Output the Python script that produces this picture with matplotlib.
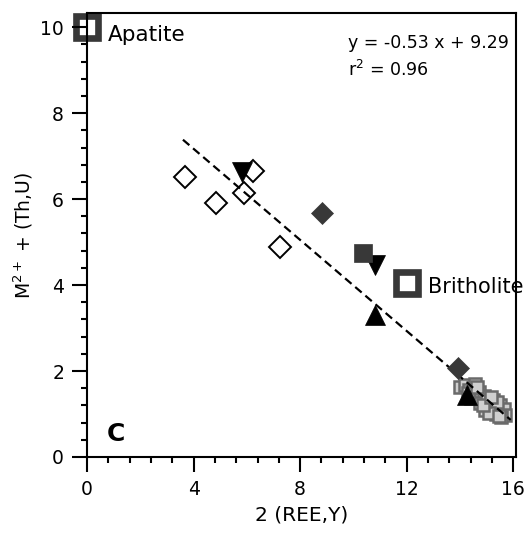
"""Diagram M2+ + (Th,U) vs 2 (REE,Y): apatite - britholite substitution trend"""

import matplotlib
matplotlib.use('Agg')
import matplotlib.pyplot as plt
from matplotlib.ticker import MultipleLocator
import numpy as np

# end members
apatite_x, apatite_y = [0.0], [10.0]
britholite_x, britholite_y = [12.02], [4.05]

# analyses by group
open_dia_x = [3.68, 4.84, 5.90, 6.23, 7.25]
open_dia_y = [6.51, 5.90, 6.14, 6.65, 4.88]

dark_dia_x = [8.82, 13.93]
dark_dia_y = [5.67, 2.07]

dark_sq_x = [10.36]
dark_sq_y = [4.74]

tri_down_x = [5.82, 10.80]
tri_down_y = [6.63, 4.47]

tri_up_x = [10.81, 14.27]
tri_up_y = [3.30, 1.44]

gray_sq_x = [14.00, 14.20, 14.35, 14.50, 14.60, 14.40, 14.70, 14.80, 14.90, 14.75,
             15.00, 15.05, 15.15, 15.20, 15.30, 15.35, 15.45, 15.50, 15.60, 15.65,
             15.25, 14.55, 14.95, 15.40, 14.30, 15.10, 15.70, 15.55, 14.85, 14.65,
             15.15, 15.45]
gray_sq_y = [1.62, 1.68, 1.55, 1.60, 1.45, 1.38, 1.52, 1.35, 1.42, 1.25,
             1.30, 1.18, 1.25, 1.08, 1.15, 1.00, 1.10, 1.20, 1.05, 1.12,
             1.32, 1.70, 1.10, 1.28, 1.48, 1.02, 0.98, 0.92, 1.20, 1.62,
             1.40, 0.95]

# linear fit
slope, intercept, r2 = -0.53, 9.29, 0.96
fit_x0, fit_x1 = 3.6, 15.9

DARK = '#383838'

plt.rcParams['font.family'] = 'DejaVu Sans'

fig = plt.figure(figsize=(5.28, 5.33), dpi=100)
ax = fig.add_axes([0.1648, 0.1426, 0.8125, 0.833])

ax.plot(gray_sq_x, gray_sq_y, ls='none', marker='s', ms=8.5, mew=1.8,
        mec='#6a6a6a', mfc='#cfcfcf', zorder=2)

fx = np.array([fit_x0, fit_x1])
ax.plot(fx, slope * fx + intercept, color='black', lw=1.6,
        linestyle=(0, (3.8, 2.2)), zorder=3)

ax.plot(tri_down_x, tri_down_y, ls='none', marker='v', ms=14, mew=0.5,
        mec='black', mfc='black', zorder=4)
ax.plot(tri_up_x, tri_up_y, ls='none', marker='^', ms=14, mew=0.5,
        mec='black', mfc='black', zorder=4)
ax.plot(dark_dia_x, dark_dia_y, ls='none', marker='D', ms=11, mew=0.5,
        mec=DARK, mfc=DARK, zorder=4)
ax.plot(dark_sq_x, dark_sq_y, ls='none', marker='s', ms=12.5, mew=0.5,
        mec=DARK, mfc=DARK, zorder=4)
ax.plot(open_dia_x, open_dia_y, ls='none', marker='D', ms=11, mew=1.4,
        mec='black', mfc='none', zorder=5)

# end members, big hollow squares
ax.plot(britholite_x, britholite_y, ls='none', marker='s', ms=15.5, mew=4.8,
        mec=DARK, mfc='white', zorder=5)
ax.plot(apatite_x, apatite_y, ls='none', marker='s', ms=15.5, mew=4.8,
        mec=DARK, mfc='white', zorder=1.2, clip_on=False)

ax.text(0.79, 9.67, 'Apatite', fontsize=15.5, va='baseline', ha='left')
ax.text(12.8, 3.81, 'Britholite', fontsize=15, va='baseline', ha='left')

ax.text(0.608, 0.953, f'y = {slope:.2f} x + {intercept:.2f}', transform=ax.transAxes,
        fontsize=12.5, va='top', ha='left')
ax.text(0.608, 0.895, rf'r$^2$ = {r2:.2f}', transform=ax.transAxes,
        fontsize=12.5, va='top', ha='left')

ax.text(1.09, 0.53, 'C', fontsize=18, fontweight='bold', va='center', ha='center')

ax.set_xlim(0, 16.1)
ax.set_ylim(0, 10.33)
ax.xaxis.set_major_locator(MultipleLocator(4))
ax.xaxis.set_minor_locator(MultipleLocator(0.8))
ax.yaxis.set_major_locator(MultipleLocator(2))
ax.yaxis.set_minor_locator(MultipleLocator(0.4))

ax.tick_params(which='both', direction='out', width=1.5, top=False, right=False)
ax.tick_params(which='major', length=10.5, pad=6, labelsize=13.5)
ax.tick_params(which='minor', length=4.5)

for sp in ax.spines.values():
    sp.set_linewidth(1.5)

ax.set_xlabel('2 (REE,Y)', fontsize=14.5, labelpad=5)
ax.set_ylabel(r'M$^{2+}$ + (Th,U)', fontsize=13.5, labelpad=4)

fig.savefig('out.png', dpi=100)
